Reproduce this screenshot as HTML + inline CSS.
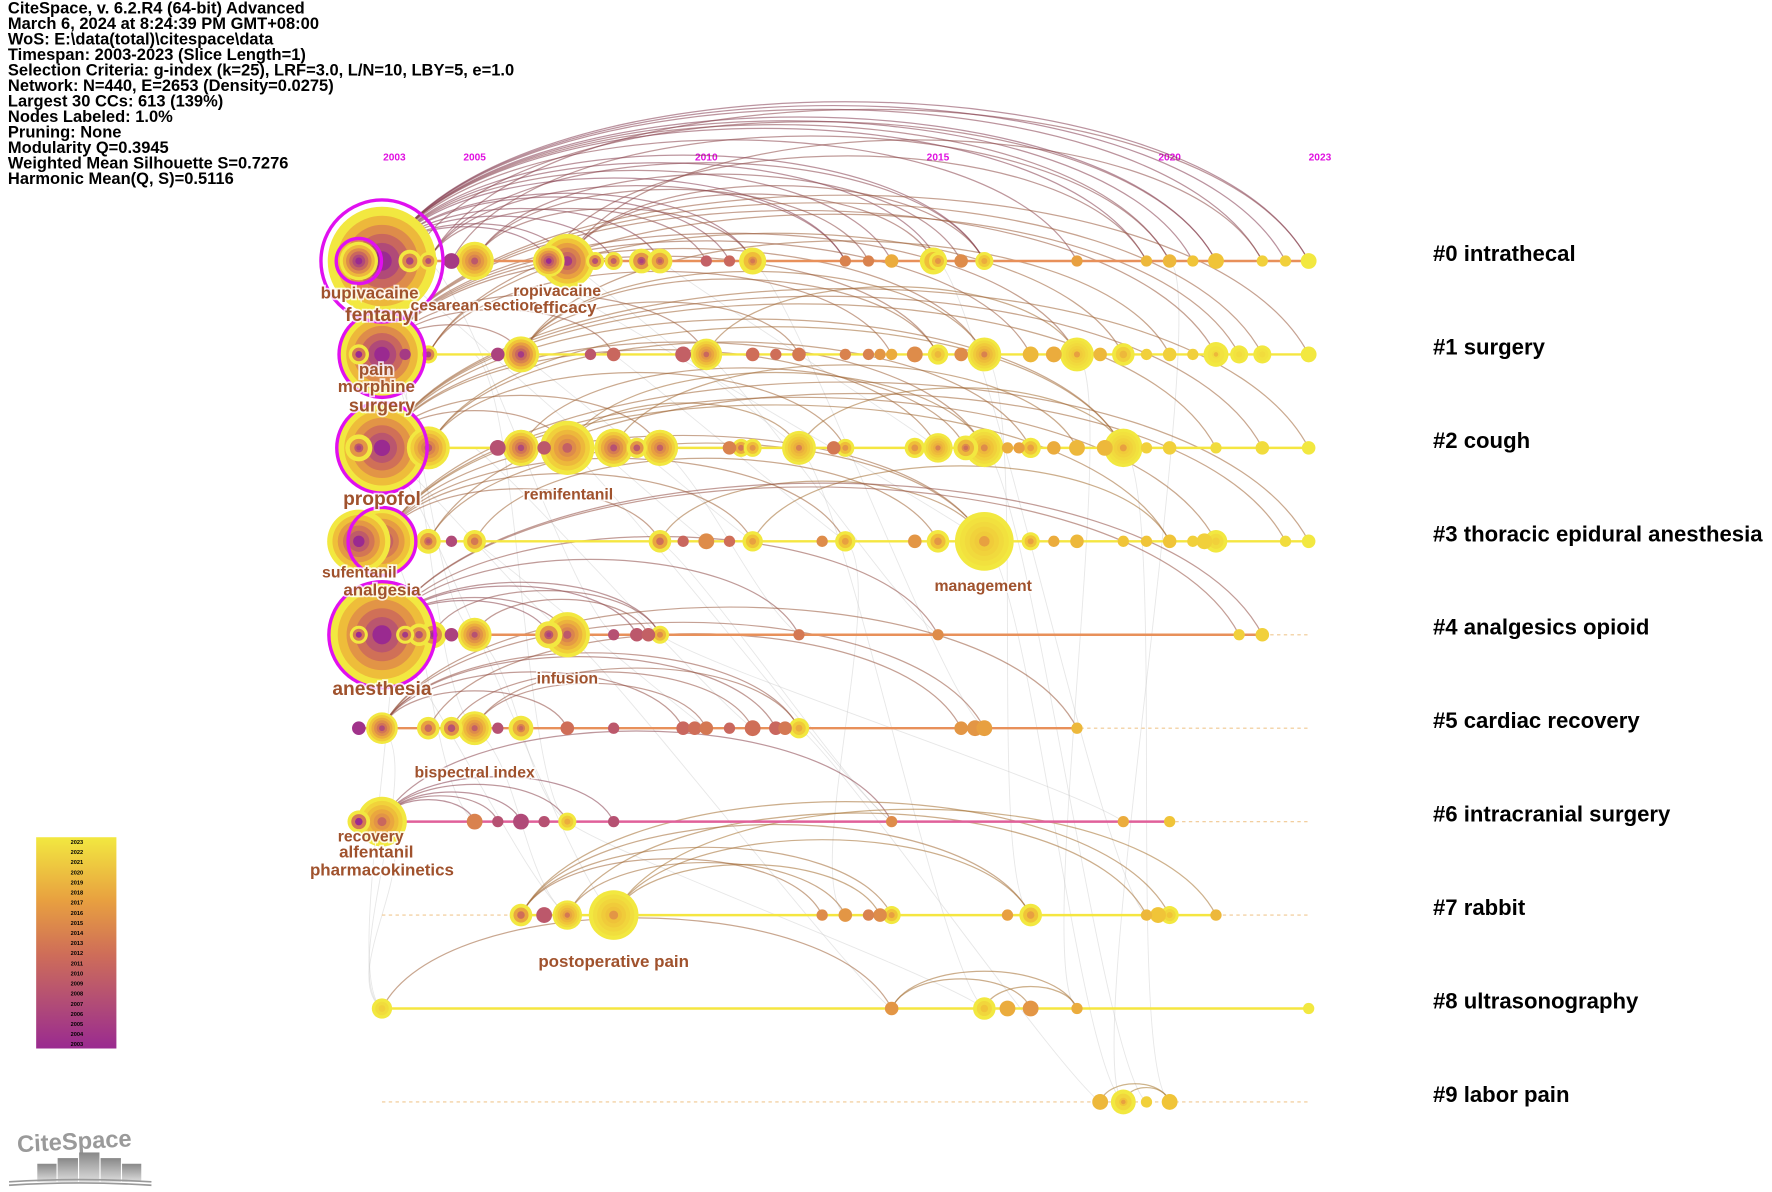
<!DOCTYPE html>
<html><head><meta charset="utf-8"><style>
html,body{margin:0;padding:0;background:#fff;}
svg{display:block;}
.hdr{font-family:"Liberation Sans",sans-serif;font-size:14.6px;font-weight:bold;fill:#000;}
.yr{font-family:"Liberation Sans",sans-serif;font-size:9px;font-weight:bold;fill:#e010e0;}
.lbl{font-family:"Liberation Sans",sans-serif;font-weight:bold;fill:#a0522d;stroke:#fff;stroke-width:3;paint-order:stroke;stroke-opacity:0.8;text-anchor:middle;}
.cl{font-family:"Liberation Sans",sans-serif;font-size:19.6px;font-weight:bold;fill:#000;}
.lg{font-family:"Liberation Sans",sans-serif;font-size:5px;font-weight:bold;fill:#000;text-anchor:middle;}
</style></head><body>
<svg id="chart" width="1772" height="1192" viewBox="0 0 1568 1055" preserveAspectRatio="none" xmlns="http://www.w3.org/2000/svg">
<defs>
<linearGradient id="cbar" x1="0" y1="0" x2="0" y2="1">
<stop offset="0" stop-color="#f2e840"/><stop offset="0.3" stop-color="#e8a040"/><stop offset="0.55" stop-color="#cf6e58"/><stop offset="0.8" stop-color="#b04a78"/><stop offset="1" stop-color="#9a2a90"/>
</linearGradient>
<linearGradient id="logoG" x1="0" y1="0" x2="0" y2="1"><stop offset="0" stop-color="#888"/><stop offset="1" stop-color="#ddd"/></linearGradient>
</defs>
<g id="header">
<text class="hdr" x="7" y="12">CiteSpace, v. 6.2.R4 (64-bit) Advanced</text>
<text class="hdr" x="7" y="25.7">March 6, 2024 at 8:24:39 PM GMT+08:00</text>
<text class="hdr" x="7" y="39.4">WoS: E:\data(total)\citespace\data</text>
<text class="hdr" x="7" y="53.1">Timespan: 2003-2023 (Slice Length=1)</text>
<text class="hdr" x="7" y="66.8">Selection Criteria: g-index (k=25), LRF=3.0, L/N=10, LBY=5, e=1.0</text>
<text class="hdr" x="7" y="80.5">Network: N=440, E=2653 (Density=0.0275)</text>
<text class="hdr" x="7" y="94.2">Largest 30 CCs: 613 (139%)</text>
<text class="hdr" x="7" y="107.9">Nodes Labeled: 1.0%</text>
<text class="hdr" x="7" y="121.6">Pruning: None</text>
<text class="hdr" x="7" y="135.3">Modularity Q=0.3945</text>
<text class="hdr" x="7" y="149">Weighted Mean Silhouette S=0.7276</text>
<text class="hdr" x="7" y="162.7">Harmonic Mean(Q, S)=0.5116</text>
</g>
<g id="years"></g>
<g id="cross"></g>
<g id="arcs"></g>
<g id="lines"></g>
<g id="nodes"></g>
<g id="labels"></g>
<g id="clusters"></g>
<g id="legend">
<rect x="32" y="741" width="71" height="187" fill="url(#cbar)"/>
</g>
<g id="logo">
<text x="15" y="1017" font-family="Liberation Sans,sans-serif" font-size="21" font-weight="bold" fill="#9a9a9a" transform="rotate(-3 70 1010)">CiteSpace</text>
<rect x="33" y="1030" width="17" height="16" fill="url(#logoG)"/>
<rect x="51" y="1025" width="18" height="21" fill="url(#logoG)"/>
<rect x="70" y="1020" width="18" height="26" fill="url(#logoG)"/>
<rect x="89" y="1025" width="18" height="21" fill="url(#logoG)"/>
<rect x="108" y="1030" width="17" height="16" fill="url(#logoG)"/>
<path d="M8 1046 Q70 1042 134 1046 M8 1049 Q70 1045 134 1049" stroke="#999" stroke-width="1.5" fill="none"/>
</g>
</svg>
<script>
const NS="http://www.w3.org/2000/svg";
// ---- data ----
const tickYears=[2003,2005,2010,2015,2020,2023];
const clusterNames=["#0 intrathecal","#1 surgery","#2 cough","#3 thoracic epidural anesthesia","#4 analgesics opioid","#5 cardiac recovery","#6 intracranial surgery","#7 rabbit","#8 ultrasonography","#9 labor pain"];
const rowLineStart=[2003,2003,2003,2003,2003,2002.5,2002.5,2006.0,2003,2003];
const rowLineEnd=[2023,2023,2023,2023,2022,2018,2020,2021,2023,2023];
const rowLineColor=["#e8905a","#f5e640","#f5e640","#f5e640","#e8905a","#e8905a","#e0609a","#f5e640","#f5e640","#f5e640"];
// nodes per row: [year, radius, colorYear]
const nodes0=[[2003,48,2003],[2002.5,17,2003],[2003.6,10,2006],[2004,8,2008],[2004.5,7,2005],[2005,17,2012],[2006.6,14,2006],[2007,24,2008],[2007.6,8,2008],[2008,8,2010],[2008.6,11,2009],[2009,11,2013],[2010,5,2010],[2010.5,5,2011],[2011,12,2016],[2013,5,2014],[2013.5,5,2014],[2014,6,2018],[2014.9,12,2016],[2015,8,2016],[2015.5,6,2015],[2016,8,2018],[2018,5,2017],[2019.5,5,2019],[2020,6,2019],[2020.5,5,2020],[2021,7,2020],[2022,5,2021],[2022.5,5,2021],[2023,7,2023]];
const nodes1=[[2003,38,2003],[2002.5,9,2003],[2003.5,5,2005],[2004,8,2006],[2005.5,6,2006],[2006,16,2008],[2007.5,5,2009],[2008,6,2011],[2009.5,7,2010],[2010,14,2014],[2011,6,2012],[2011.5,5,2012],[2012,6,2013],[2013,5,2014],[2013.5,5,2014],[2013.75,5,2016],[2014,5,2018],[2014.5,7,2015],[2015,9,2019],[2015.5,6,2015],[2016,15,2017],[2017,7,2019],[2017.5,7,2018],[2018,15,2020],[2018.5,6,2019],[2019,10,2019],[2019.5,5,2021],[2020,6,2021],[2020.5,5,2021],[2021,11,2022],[2021.5,8,2022],[2022,8,2022],[2023,7,2023]];
const nodes2=[[2003,40,2005],[2002.5,12,2009],[2004,19,2012],[2005.5,7,2008],[2006,16,2010],[2006.5,6,2009],[2007,24,2013],[2008,17,2011],[2008.5,9,2009],[2009,16,2013],[2010.5,6,2014],[2010.75,8,2013],[2011,8,2016],[2012,15,2017],[2012.75,6,2013],[2013,8,2016],[2014.5,9,2016],[2015,13,2017],[2015.6,11,2015],[2016,17,2018],[2016.5,5,2018],[2016.75,5,2017],[2017,9,2017],[2017.5,6,2018],[2018,7,2019],[2018.6,7,2019],[2019,17,2020],[2019.5,5,2021],[2020,6,2021],[2021,5,2022],[2022,6,2022],[2023,6,2023]];
const nodes3=[[2002.5,28,2006],[2003,30,2007],[2004,11,2012],[2004.5,5,2007],[2005,10,2013],[2009,10,2012],[2009.5,5,2011],[2010,7,2015],[2010.5,5,2012],[2011,9,2017],[2012.5,5,2015],[2013,9,2017],[2014.5,6,2016],[2015,10,2016],[2016,26,2020],[2017,8,2017],[2017.5,5,2018],[2018,6,2019],[2019,5,2020],[2019.5,5,2020],[2020,6,2020],[2020.5,5,2021],[2020.75,7,2021],[2021,10,2021],[2022.5,5,2022],[2023,6,2023]];
const nodes4=[[2003,47,2005],[2002.5,8,2003],[2003.5,8,2005],[2003.8,10,2008],[2004.1,12,2007],[2004.5,6,2006],[2005,15,2011],[2006.6,12,2009],[2007,20,2012],[2008,5,2008],[2008.5,6,2009],[2008.75,6,2010],[2009,8,2015],[2012,5,2013],[2015,5,2015],[2021.5,5,2021],[2022,6,2021]];
const nodes5=[[2002.5,6,2004],[2003,14,2010],[2004,10,2011],[2004.5,10,2008],[2005,15,2013],[2005.5,5,2008],[2006,11,2014],[2007,6,2012],[2008,5,2009],[2009.5,6,2011],[2009.75,6,2012],[2010,6,2013],[2010.5,5,2011],[2011,7,2012],[2011.5,6,2011],[2011.7,6,2013],[2012,9,2018],[2015.5,6,2016],[2015.8,7,2016],[2016,7,2017],[2018,5,2019]];
const nodes6=[[2002.5,10,2003],[2003,22,2014],[2005,7,2014],[2005.5,5,2008],[2006,7,2007],[2006.5,5,2008],[2007,8,2018],[2008,5,2008],[2014,5,2015],[2019,5,2018],[2020,5,2020]];
const nodes7=[[2006,10,2012],[2006.5,7,2009],[2007,13,2016],[2008,22,2019],[2012.5,5,2015],[2013,6,2016],[2013.5,5,2014],[2013.75,6,2015],[2014,8,2017],[2016.5,5,2017],[2017,10,2017],[2019.5,5,2019],[2019.75,7,2020],[2020,8,2020],[2021,5,2019]];
const nodes8=[[2003,9,2021],[2014,6,2016],[2016,10,2020],[2016.5,7,2018],[2017,7,2016],[2018,5,2018],[2023,5,2023]];
const nodes9=[[2018.5,7,2019],[2019,11,2020],[2019.5,5,2021],[2020,7,2020]];
// arcs within row: [row, fromYear, toYear, colorYear]
const arcList=[
[0,2003,2023,2004],[0,2003,2022.5,2004],[0,2003,2022,2005],[0,2003,2021,2004],[0,2003,2020.5,2005],[0,2003,2020,2006],[0,2003,2019.5,2005],[0,2003,2018,2006],[0,2004,2016,2006],[0,2003,2015,2005],[0,2003,2014,2006],[0,2003,2013,2004],[0,2003,2011,2005],[0,2003,2009,2005],[0,2004,2010,2007],[0,2003,2008,2004],[0,2003,2007,2005],[0,2005,2015.5,2007],[0,2007,2016,2009],[0,2007,2022,2008],[0,2004,2023,2006],[0,2003,2010.5,2005],[0,2005,2013.5,2008],[0,2003,2006.6,2004],[0,2003.6,2021,2006],[0,2004.5,2020,2007],[0,2006.6,2019.5,2008],[0,2007,2014.9,2009],[0,2003,2016,2005],[0,2005,2011,2008],[0,2004,2013,2006],
[1,2003,2023,2012],[1,2003,2022,2013],[1,2003,2021,2012],[1,2004,2019,2014],[1,2003,2018,2012],[1,2003,2016,2013],[1,2006,2016,2015],[1,2003,2015,2012],[1,2004,2014,2013],[1,2006,2012,2014],[1,2003,2010,2012],[1,2006,2020,2014],[1,2010,2018,2016],[1,2003,2008,2011],[1,2003,2006,2010],[1,2004,2021.5,2013],[1,2003,2017,2012],[1,2006,2015,2014],
[2,2003,2023,2015],[2,2003,2022,2014],[2,2003,2019,2015],[2,2004,2019,2016],[2,2003,2016,2014],[2,2007,2016,2016],[2,2003,2015,2015],[2,2004,2013,2015],[2,2007,2012,2016],[2,2003,2009,2014],[2,2003,2007,2013],[2,2008,2018,2016],[2,2012,2019,2017],[2,2003,2021,2015],[2,2004,2017,2015],[2,2006,2015.6,2015],
[3,2003,2023,2015],[3,2003,2021,2015],[3,2003,2016,2014],[3,2004,2016,2015],[3,2003,2013,2014],[3,2003,2011,2014],[3,2005,2015,2015],[3,2003,2009,2013],[3,2009,2016,2016],[3,2011,2020,2017],[3,2003,2020,2016],[3,2004,2022.5,2015],
[4,2003,2022,2009],[4,2003,2021.5,2010],[4,2003,2015,2009],[4,2003,2012,2008],[4,2003,2009,2007],[4,2003,2008.5,2006],[4,2003,2007,2007],[4,2004.1,2009,2008],[4,2005,2008.75,2009],[4,2003,2006.6,2006],
[5,2003,2018,2012],[5,2003,2016,2011],[5,2004,2015.5,2011],[5,2003,2012,2010],[5,2003,2011.5,2009],[5,2004.5,2011,2010],[5,2005,2010,2010],[5,2003,2009.5,2009],[5,2005,2012,2011],[5,2003,2007,2009],
[6,2003,2014,2006],[6,2003,2008,2005],[6,2003,2007,2006],[6,2003,2006,2005],[6,2003,2005.5,2006],[6,2003,2005,2005],
[7,2006,2020,2017],[7,2007,2019.5,2017],[7,2006,2017,2016],[7,2008,2017,2017],[7,2006,2014,2016],[7,2008,2013.75,2017],[7,2007,2013,2016],[7,2006,2012.5,2015],[7,2008,2021,2018],
[8,2003,2014,2014],[8,2014,2018,2017],[8,2014,2017,2017],[8,2016,2018,2018],
[9,2018.5,2020,2019],[9,2019,2020,2019]];
// faint inter-row links: [rowA, yearA, rowB, yearB]
const crossList=[[0,2003,3,2010],[0,2004,4,2008],[1,2003,5,2005],[1,2005,6,2007],[2,2003,7,2008],[2,2005,5,2011],[3,2003,8,2003],[3,2009,6,2014],[4,2003,7,2007],[0,2006,3,2016],[1,2010,4,2015],[2,2012,8,2016],[3,2016,9,2019],[1,2018,8,2018],[2,2019,9,2020],[0,2011,5,2016],[5,2003,8,2003],[6,2003,8,2003],[2,2007,6,2014],[1,2016,7,2017],[0,2015,7,2019.5],[3,2013,7,2013],[4,2007,8,2014],[5,2012,9,2018.5],[0,2020,9,2019],[2,2016,9,2019.5],[1,2008,3,2013],[0,2009,2,2015],[3,2005,5,2010],[4,2009,6,2019],[0,2003,2,2004],[1,2003,4,2005],[2,2003,4,2007],[3,2003,6,2005],[4,2005,6,2007],[0,2007,2,2012],[1,2006,3,2011],[2,2009,4,2012],[5,2005,7,2007],[6,2007,8,2016]];
const nodeLabels=[["bupivacaine",327,264,15],["fentanyl",338,284,17],["cesarean section",420,275,14],["ropivacaine",493,262,14],["efficacy",500,277,15],["pain",333,332,15],["morphine",333,347,15],["surgery",338,364,16],["propofol",338,447,17],["remifentanil",503,442,14],["sufentanil",318,511,14],["analgesia",338,527,15],["management",870,523,14],["anesthesia",338,615,17],["infusion",502,605,14],["bispectral index",420,688,14],["recovery",328,745,14],["alfentanil",333,759,15],["pharmacokinetics",338,775,15],["postoperative pain",543,856,15]];
const legendYears=[2023,2022,2021,2020,2019,2018,2017,2016,2015,2014,2013,2012,2011,2010,2009,2008,2007,2006,2005,2004,2003];
// ---- scales ----
const rowY=r=>231+r*82.7;
const xOf=yr=>338+(yr-2003)*41;
const cstops=[[2003,[154,42,144]],[2007,[176,74,120]],[2012,[207,110,88]],[2017,[232,160,64]],[2020,[240,196,56]],[2023,[242,232,64]]];
function cmap(y){y=Math.max(2003,Math.min(2023,y));for(let i=0;i<cstops.length-1;i++){const a=cstops[i],b=cstops[i+1];if(y<=b[0]){const t=(y-a[0])/(b[0]-a[0]);const c=a[1].map((v,k)=>Math.round(v+(b[1][k]-v)*t));return `rgb(${c.join(',')})`;}}return 'rgb(242,232,64)';}
function el(tag,attrs,parent){const e=document.createElementNS(NS,tag);for(const k in attrs)e.setAttribute(k,attrs[k]);parent.appendChild(e);return e;}
const G=id=>document.getElementById(id);
// years
tickYears.forEach(y=>{const t=el('text',{class:'yr',x:xOf(y)+(y===2003?11:(y===2023?10:0)),y:142,'text-anchor':'middle'},G('years'));t.textContent=y;

});
// cross links
crossList.forEach(c=>{const x1=xOf(c[1]),y1=rowY(c[0]),x2=xOf(c[3]),y2=rowY(c[2]);const p=el('path',{d:`M${x1} ${y1} C${x1+40} ${y1+30},${x2-40} ${y2-30},${x2} ${y2}`,stroke:'#c4c4c4','stroke-width':0.8,fill:'none','stroke-opacity':0.4},G('cross'));

});
// arcs
arcList.forEach(a=>{const y=rowY(a[0]),x1=xOf(a[1]),x2=xOf(a[2]);const h=(x2-x1)*0.165+6;const col=cmap(a[3]);const dark=`color-mix(in srgb, ${col} 45%, #6b4020)`;
const p=el('path',{d:`M${x1} ${y} C${x1+(x2-x1)*0.12} ${y-h*1.33},${x2-(x2-x1)*0.12} ${y-h*1.33},${x2} ${y}`,stroke:dark,'stroke-width':1.1,fill:'none','stroke-opacity':0.55},G('arcs'));

});
// lines
for(let r=0;r<10;r++){const y=rowY(r);
const d=el('line',{x1:338,x2:1158,y1:y,y2:y,stroke:'#f0c890','stroke-width':1,'stroke-dasharray':'3,3'},G('lines'));


if(r!==9){const l=el('line',{x1:xOf(rowLineStart[r]),x2:xOf(rowLineEnd[r]),y1:y,y2:y,stroke:rowLineColor[r],'stroke-width':2.2},G('lines'));

}}
// nodes
const allNodes=[nodes0,nodes1,nodes2,nodes3,nodes4,nodes5,nodes6,nodes7,nodes8,nodes9];
const burst=[[0,2003,54],[0,2002.5,20],[1,2003,38],[2,2003,40],[3,2003,30],[4,2003,47]];
allNodes.forEach((arr,r)=>{const sorted=arr.slice().sort((a,b)=>b[1]-a[1]);sorted.forEach(n=>{const cx=xOf(n[0]),cy=rowY(r),R=n[1];const g=el('g',{},G('nodes'));


const steps=R>12?6:(R>7?3:1);for(let i=0;i<steps;i++){const f=1-i/steps;const cy2=2023-(2023-n[2])*(i/(steps-1||1));el('circle',{cx:cx,cy:cy,r:R*f,fill:cmap(steps===1?n[2]:cy2)},g);}
if(R>10)el('circle',{cx:cx,cy:cy,r:Math.max(2,R*0.18),fill:cmap(n[2]-3)},g);});});
burst.forEach(b=>{const c=el('circle',{cx:xOf(b[1]),cy:rowY(b[0]),r:b[2],fill:'none',stroke:'#e010f0','stroke-width':3},G('nodes'));

});
// labels
nodeLabels.forEach(l=>{const t=el('text',{class:'lbl',x:l[1],y:l[2],'font-size':l[3]},G('labels'));t.textContent=l[0];

});
// cluster names
clusterNames.forEach((n,r)=>{const t=el('text',{class:'cl',x:1268,y:rowY(r)+0},G('clusters'));t.textContent=n;

});
// legend labels
legendYears.forEach((y,i)=>{const t=el('text',{class:'lg',x:68,y:747+i*8.95},G('legend'));t.textContent=y;

});
</script>
</body></html>
